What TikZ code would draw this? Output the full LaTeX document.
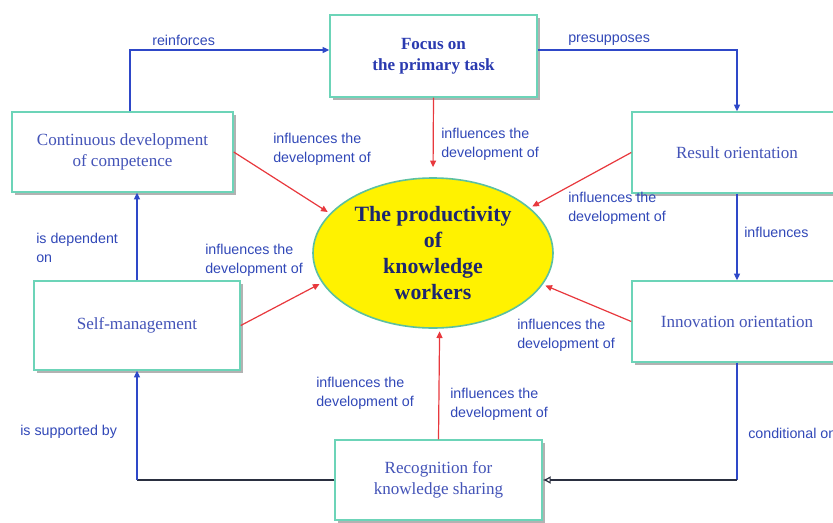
\documentclass[tikz,border=0pt]{standalone}
\usepackage{fontspec}
\setmainfont{Liberation Serif}
\newfontfamily\labfont{Liberation Sans}
\usetikzlibrary{shapes.geometric,arrows.meta,shadows}
\definecolor{boxtext}{HTML}{4454B8}
\definecolor{focustext}{HTML}{2A3AB0}
\definecolor{elltext}{HTML}{1C2670}
\definecolor{labcol}{HTML}{3148B8}
\definecolor{conblue}{HTML}{2E48C8}
\definecolor{darkline}{HTML}{2A2F40}
\definecolor{redc}{HTML}{E8383D}
\definecolor{tealb}{HTML}{6CD4B8}
\definecolor{ellborder}{HTML}{5CC0A0}
\begin{document}
\begin{tikzpicture}[x=0.75pt,y=-0.75pt,
  box/.style={draw=tealb, line width=1.1pt, fill=white, text=boxtext, align=center,
    font=\fontsize{12.8}{15.5}\selectfont, inner sep=0pt,
    drop shadow={shadow xshift=2.5pt, shadow yshift=-2.5pt, fill=black, opacity=0.3}},
  lab/.style={text=labcol, font=\labfont\fontsize{10.7}{14}\selectfont, align=left, inner sep=0pt, anchor=west},
  bl/.style={draw=conblue, line width=0.9pt, -{Triangle[length=5pt,width=4.5pt]}},
  blplain/.style={draw=conblue, line width=0.9pt},
  dk/.style={draw=darkline, line width=0.9pt},
  rd/.style={draw=redc, line width=0.9pt, -{Triangle[length=5pt,width=4.5pt]}, shorten >=2pt},
]
\useasboundingbox (0,0) rectangle (833,522);
\clip (0,0) rectangle (833,522);
\fill[white] (0,0) rectangle (833,522);

% boxes
\node[box, minimum width=155.25pt, minimum height=61.5pt, text=focustext,
  font=\bfseries\fontsize{12.8}{15.5}\selectfont] (focus) at (433.5,56) {Focus on\\the primary task};
\node[box, minimum width=165.75pt, minimum height=60pt] (cont) at (122.5,152) {Continuous development\\of competence};
\node[box, minimum width=157.5pt, minimum height=60.75pt] (result) at (737,152.5) {Result orientation};
\node[box, minimum width=157.5pt, minimum height=60.75pt] (innov) at (737,321.5) {Innovation orientation};
\node[box, minimum width=154.5pt, minimum height=66.75pt] (self) at (137,325.5) {Self-management};
\node[box, minimum width=155.25pt, minimum height=60pt] (recog) at (438.5,480) {Recognition for\\knowledge sharing};

% ellipse
\node[ellipse, draw=ellborder, line width=1.2pt, fill=yellow, minimum width=180pt, minimum height=112.5pt,
  inner sep=0pt, align=center, text=elltext, font=\bfseries\fontsize{16.4}{19.5}\selectfont]
  (ell) at (433,253) {The productivity\\of\\knowledge\\workers};

% blue connectors
\coordinate (c1) at (130,50);
\draw[bl] (c1 |- cont.north) -- (c1) -- (c1 -| focus.west);
\coordinate (c2) at (737,50);
\draw[bl] (c2 -| focus.east) -- (c2) -- (result.north);
\draw[bl] (result.south) -- (innov.north);
\coordinate (c3) at (innov.south |- recog.east);
\draw[blplain] (innov.south) -- (c3);
\draw[dk, -{Latex[open,length=6pt,width=6pt]}] (c3) -- (recog.east);
\coordinate (c4) at (recog.west -| self.south);
\draw[dk] (recog.west) -- (c4);
\draw[bl] (c4) -- (self.south);
\draw[bl] (self.north) -- (self.north |- cont.south);

% red connectors
\draw[rd, shorten >=7.5pt] (focus.south) -- (ell.north);
\draw[rd] (cont.east) -- (ell.159);
\draw[rd] (result.west) -- (ell.25);
\draw[rd] (self.east) -- (ell.195);
\draw[rd] (innov.west) -- (ell.-16);
\draw[rd] (recog.north) -- (ell.275);

% labels
\node[lab] (l1) at (152,40) {reinforces};
\node[lab] (l2) at (568,40) {presupposes};
\node[lab] (l3) at (744,232) {influences};
\node[lab] (l4) at (748,433) {conditional on};
\node[lab] (l5) at (20,432) {is supported by};
\node[lab] (l6) at (36,248) {is dependent\\on};
\node[lab] (r1) at (273,149) {influences the\\development of};
\node[lab] (r2) at (441,144) {influences the\\development of};
\node[lab] (r3) at (568,208) {influences the\\development of};
\node[lab] (r4) at (205,260) {influences the\\development of};
\node[lab] (r5) at (517,335) {influences the\\development of};
\node[lab] (r6) at (316,393) {influences the\\development of};
\node[lab] (r7) at (450,404) {influences the\\development of};
\end{tikzpicture}
\end{document}
